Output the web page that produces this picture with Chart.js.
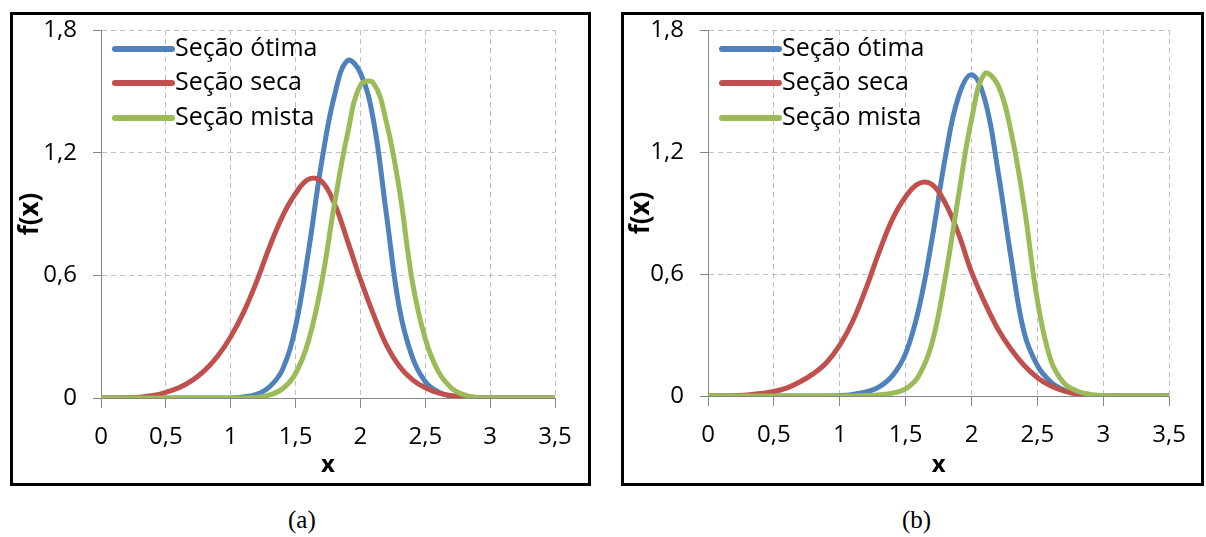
<!DOCTYPE html>
<html>
<head>
<meta charset="utf-8">
<script src="https://cdn.jsdelivr.net/npm/chart.js@4.4.1/dist/chart.umd.min.js"></script>
<style>
  body { margin: 0; background: #fff; width: 1206px; height: 537px; position: relative; overflow: hidden; }
  .box { position: absolute; border: 3px solid #000; }
  .box canvas { display: block; }
  .cap { position: absolute; font-family: "Liberation Serif", "DejaVu Serif", serif; font-size: 25px; color: #000; }
</style>
</head>
<body>
<div class="box" style="left:10px; top:12px; width:575px; height:468px;"><canvas id="chart-a" width="575" height="468"></canvas></div>
<div class="box" style="left:621px; top:12px; width:577px; height:468px;"><canvas id="chart-b" width="577" height="468"></canvas></div>
<div class="cap" style="left:288px; top:506px;">(a)</div>
<div class="cap" style="left:902px; top:506px;">(b)</div>
<script>
const seriesNames = ["Seção ótima", "Seção seca", "Seção mista"];
const seriesColors = ["#4F81BD", "#C0504D", "#9BBB59"];

const xs = [0, 0.1, 0.2, 0.3, 0.4, 0.5, 0.6, 0.7, 0.8, 0.9,
  1.0, 1.1, 1.2, 1.3, 1.4, 1.5, 1.6, 1.7, 1.8, 1.9,
  2.0, 2.1, 2.2, 2.3, 2.4, 2.5, 2.6, 2.7, 2.8, 2.9,
  3.0, 3.1, 3.2, 3.3, 3.4, 3.5];

// panel (a)
const otimaA = [0, 0, 0, 0, 0, 0, 0, 0, 0, 0,
  0, 0.005, 0.018, 0.055, 0.14, 0.35, 0.72, 1.15, 1.48, 1.65,
  1.59, 1.36, 0.90, 0.44, 0.20, 0.08, 0.03, 0.008, 0.001, 0,
  0, 0, 0, 0, 0, 0];
const secaA = [0, 0, 0.001, 0.004, 0.012, 0.028, 0.05, 0.085, 0.135, 0.205,
  0.30, 0.42, 0.57, 0.74, 0.89, 1.00, 1.07, 1.06, 0.95, 0.77,
  0.58, 0.41, 0.26, 0.155, 0.09, 0.05, 0.025, 0.012, 0.004, 0.001,
  0, 0, 0, 0, 0, 0];
const mistaA = [0, 0, 0, 0, 0, 0, 0, 0, 0, 0,
  0, 0, 0.003, 0.015, 0.045, 0.12, 0.28, 0.56, 0.95, 1.29,
  1.53, 1.54, 1.35, 1.02, 0.57, 0.29, 0.13, 0.05, 0.015, 0.003,
  0, 0, 0, 0, 0, 0];

// panel (b)
const otimaB = [0, 0, 0, 0, 0, 0, 0, 0, 0, 0,
  0.002, 0.008, 0.02, 0.045, 0.10, 0.21, 0.43, 0.77, 1.17, 1.47,
  1.58, 1.46, 1.11, 0.68, 0.31, 0.15, 0.07, 0.03, 0.01, 0.003,
  0, 0, 0, 0, 0, 0];
const secaB = [0, 0, 0.002, 0.005, 0.012, 0.022, 0.04, 0.07, 0.11, 0.165,
  0.25, 0.37, 0.53, 0.71, 0.87, 0.98, 1.045, 1.04, 0.95, 0.80,
  0.61, 0.46, 0.33, 0.23, 0.15, 0.09, 0.05, 0.025, 0.01, 0.003,
  0, 0, 0, 0, 0, 0];
const mistaB = [0, 0, 0, 0, 0, 0, 0, 0, 0, 0,
  0, 0, 0.002, 0.006, 0.014, 0.035, 0.10, 0.26, 0.58, 0.98,
  1.36, 1.585, 1.53, 1.30, 0.93, 0.47, 0.18, 0.065, 0.025, 0.008,
  0.002, 0, 0, 0, 0, 0];

const xTicks = [0, 0.5, 1, 1.5, 2, 2.5, 3, 3.5];
const yTicks = [0, 0.6, 1.2, 1.8];

const FONT = "'Open Sans', Lato, sans-serif";

function commaLabel(v) {
  return String(Math.round(v * 10) / 10).replace(".", ",");
}

// legend drawn inside the plot area, top left
const insideLegend = {
  id: "insideLegend",
  afterDatasetsDraw(chart) {
    const ctx = chart.ctx;
    const area = chart.chartArea;
    const rows = [19, 53, 88];
    ctx.save();
    chart.data.datasets.forEach(function(ds, i) {
      const y = area.top + rows[i];
      ctx.strokeStyle = ds.borderColor;
      ctx.lineWidth = 6;
      ctx.lineCap = "round";
      ctx.beginPath();
      ctx.moveTo(area.left + 14, y);
      ctx.lineTo(area.left + 71, y);
      ctx.stroke();
      ctx.fillStyle = "#000";
      ctx.font = "25px " + FONT;
      ctx.textBaseline = "middle";
      ctx.fillText(ds.label, area.left + 74, y);
    });
    ctx.restore();
  }
};

function makeChart(canvasId, values, yWidth, xHeight, padRight) {
  const ctx = document.getElementById(canvasId).getContext("2d");
  return new Chart(ctx, {
    type: "line",
    data: {
      datasets: values.map(function(arr, i) {
        return {
          label: seriesNames[i],
          data: xs.map(function(x, j) { return { x: x, y: arr[j] }; }),
          borderColor: seriesColors[i],
          backgroundColor: seriesColors[i],
          borderWidth: 5,
          pointRadius: 0,
          tension: 0.4,
          fill: false,
          order: 3 - i
        };
      })
    },
    options: {
      responsive: false,
      animation: false,
      events: [],
      layout: { padding: { top: 0, right: padRight, left: 0, bottom: 0 } },
      plugins: { legend: { display: false }, tooltip: { enabled: false } },
      scales: {
        x: {
          type: "linear",
          min: 0,
          max: 3.5,
          afterBuildTicks: function(scale) { scale.ticks = xTicks.map(function(v) { return { value: v }; }); },
          afterFit: function(scale) { scale.height = xHeight; },
          ticks: {
            callback: commaLabel,
            color: "#000",
            font: { family: FONT, size: 24 },
            padding: 15,
            maxRotation: 0,
            autoSkip: false
          },
          grid: { color: "#BFBFBF", lineWidth: 1, tickLength: 10, tickColor: "#868686", tickBorderDash: [] },
          border: { display: true, color: "#868686", width: 1, dash: [5, 4] },
          title: { display: true, text: "x", color: "#000", font: { family: FONT, size: 24, weight: "bold" }, padding: { top: 0, bottom: 3 } }
        },
        y: {
          min: 0,
          max: 1.8,
          afterBuildTicks: function(scale) { scale.ticks = yTicks.map(function(v) { return { value: v }; }); },
          afterFit: function(scale) {
            scale.width = yWidth;
            // keep the plot top fixed: label overhang would otherwise push it down
            scale.paddingTop = 15;
            scale.paddingBottom = 0;
          },
          ticks: {
            callback: commaLabel,
            color: "#000",
            font: { family: FONT, size: 24 },
            padding: 16
          },
          grid: { color: "#BFBFBF", lineWidth: 1, tickLength: 8, tickColor: "#868686", tickBorderDash: [] },
          border: { display: true, color: "#868686", width: 1, dash: [5, 4] },
          title: { display: true, text: "f(x)", color: "#000", font: { family: FONT, size: 26, weight: "bold" }, padding: { top: 2, bottom: 0 } }
        }
      }
    },
    plugins: [insideLegend]
  });
}

makeChart("chart-a", [otimaA, secaA, mistaA], 88, 85, 33);
makeChart("chart-b", [otimaB, secaB, mistaB], 84, 87, 22);
</script>
</body>
</html>
